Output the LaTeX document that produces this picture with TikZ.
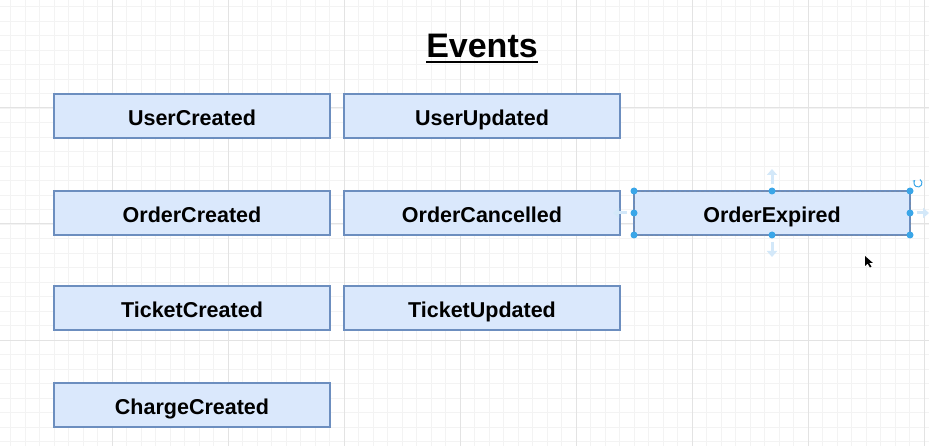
\documentclass[tikz,border=0pt]{standalone}
\usepackage{fontspec}
\setmainfont{Liberation Sans}
\usetikzlibrary{arrows.meta, positioning, calc}

\definecolor{evfill}{HTML}{DAE8FC}
\definecolor{evdraw}{HTML}{6C8EBF}
\definecolor{gridminor}{HTML}{F3F3F3}
\definecolor{gridmajor}{HTML}{E3E3E3}
\definecolor{handle}{HTML}{3AA6E8}
\definecolor{hint}{HTML}{D3E8F9}

\begin{document}
\begin{tikzpicture}[
  x=1pt, y=-1pt,
  font=\fontsize{21.5}{24}\selectfont\bfseries,
  event/.style={draw=evdraw, line width=1.4pt, fill=evfill, inner sep=0pt, outer sep=0pt,
                minimum width=276pt, minimum height=44pt,
                text height=19.4pt, text depth=0pt},
  minorline/.style={gridminor, line width=0.8pt},
  majorline/.style={gridmajor, line width=1pt},
  dot/.style={fill=handle, draw=none},
  hintarr/.style={hint, line width=3pt, -{Triangle[length=6pt, width=10pt]}}
]
\useasboundingbox (0,0) rectangle (929,446);
\fill[white] (0,0) rectangle (929,446);
% grid
\foreach \i in {0,...,63}
  \draw[minorline] ({10.5+14.5*\i},0) -- ({10.5+14.5*\i},446);
\foreach \j in {0,...,30}
  \draw[minorline] (0,{6.5+14.5*\j}) -- (929,{6.5+14.5*\j});
\foreach \i in {0,...,7}
  \draw[majorline] ({112+116*\i},0) -- ({112+116*\i},446);
\foreach \j in {-1,0,1,2}
  \draw[majorline] (0,{108+116*\j}) -- (929,{108+116*\j});

% title
\node[inner sep=0pt, font=\fontsize{34}{40}\selectfont\bfseries, anchor=base]
  (title) at (482,58) {Events};
\draw[line width=2.5pt] ([yshift=-4pt]title.base west) -- ([yshift=-4pt]title.base east);

% events
\node[event] (usercreated) at (192,116) {UserCreated};
\node[event, right=14pt of usercreated] (userupdated) {UserUpdated};
\node[event, below=53pt of usercreated] (ordercreated) {OrderCreated};
\node[event, right=14pt of ordercreated] (ordercancelled) {OrderCancelled};
\node[event, right=14pt of ordercancelled] (orderexpired) {OrderExpired};
\node[event, below=51pt of ordercreated] (ticketcreated) {TicketCreated};
\node[event, right=14pt of ticketcreated] (ticketupdated) {TicketUpdated};
\node[event, below=53pt of ticketcreated] (chargecreated) {ChargeCreated};

% selection of OrderExpired
\draw[evdraw!70!gray, line width=0.8pt, dash pattern=on 3pt off 2pt]
  (orderexpired.north west) rectangle (orderexpired.south east);
\foreach \a in {north west, north, north east, east, south east, south, south west, west}
  \fill[dot] (orderexpired.\a) circle (3.5pt);
\draw[hintarr] ([yshift=7pt]orderexpired.north) -- ([yshift=22pt]orderexpired.north);
\draw[hintarr] ([yshift=-7pt]orderexpired.south) -- ([yshift=-22pt]orderexpired.south);
\draw[hintarr] ([xshift=-7pt]orderexpired.west) -- ([xshift=-21pt]orderexpired.west);
\draw[hintarr] ([xshift=7pt]orderexpired.east) -- ([xshift=19pt]orderexpired.east);
\draw[handle, line width=1pt, -{Stealth[length=3pt]}]
  ([xshift=8pt,yshift=8pt]orderexpired.north east) ++(60:4pt) arc[start angle=60, end angle=-230, radius=4pt];
% pointer
\coordinate (cursor) at (865,256);
\fill[black] (cursor) -- ++(0,10) -- ++(2.5,-2.5) -- ++(2.5,4) -- ++(1.5,-0.8) -- ++(-2.3,-3.8) -- ++(3.6,0) -- cycle;
\end{tikzpicture}
\end{document}
